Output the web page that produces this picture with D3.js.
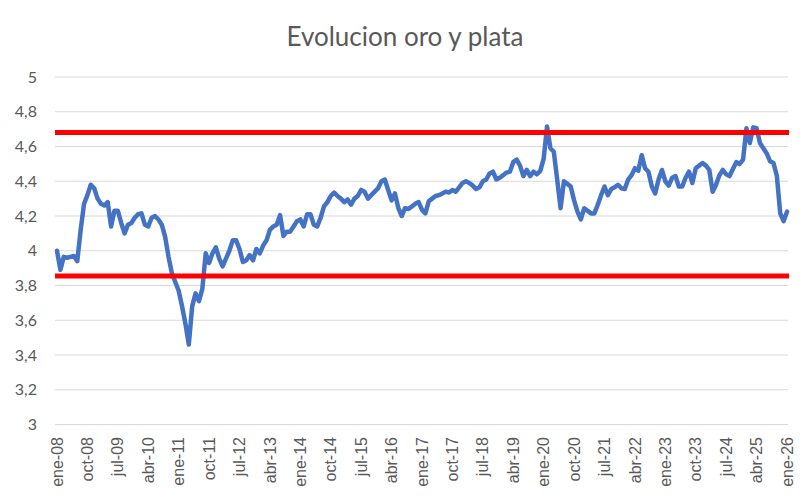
<!DOCTYPE html>
<html>
<head>
<meta charset="utf-8">
<script src="https://cdn.jsdelivr.net/npm/d3@7"></script>
<style>
  body { margin: 0; background: #fff; }
  svg { font-family: Lato, "Open Sans", sans-serif; }
</style>
</head>
<body>
<svg id="chart" width="812" height="504"></svg>
<script>
// monthly ratio, ene-08 .. ene-26 (217 months)
const ratio = [
  4.00, 3.89, 3.965, 3.96, 3.965, 3.97, 3.94, 4.12, 4.27, 4.32, 4.38, 4.36,
  4.30, 4.27, 4.26, 4.28, 4.14, 4.23, 4.23, 4.16, 4.10, 4.15, 4.16, 4.19,
  4.21, 4.215, 4.15, 4.14, 4.19, 4.20, 4.18, 4.15, 4.08, 3.965, 3.87, 3.82,
  3.77, 3.68, 3.58, 3.46, 3.68, 3.755, 3.71, 3.78, 3.985, 3.93, 3.985, 4.02,
  3.955, 3.91, 3.955, 4.00, 4.06, 4.06, 4.01, 3.935, 3.945, 3.975, 3.945, 4.01,
  3.985, 4.03, 4.06, 4.12, 4.14, 4.15, 4.205, 4.085, 4.11, 4.11, 4.14, 4.17,
  4.18, 4.14, 4.21, 4.21, 4.15, 4.14, 4.19, 4.255, 4.28, 4.315, 4.335, 4.315,
  4.30, 4.28, 4.295, 4.265, 4.30, 4.315, 4.35, 4.34, 4.30, 4.32, 4.34, 4.36,
  4.40, 4.41, 4.35, 4.29, 4.33, 4.245, 4.20, 4.245, 4.24, 4.255, 4.27, 4.28,
  4.235, 4.215, 4.285, 4.30, 4.315, 4.32, 4.33, 4.34, 4.335, 4.35, 4.34, 4.365,
  4.39, 4.40, 4.39, 4.375, 4.355, 4.365, 4.40, 4.41, 4.445, 4.455, 4.41, 4.42,
  4.435, 4.45, 4.455, 4.51, 4.525, 4.49, 4.43, 4.465, 4.43, 4.455, 4.44, 4.46,
  4.53, 4.715, 4.59, 4.57, 4.41, 4.245, 4.40, 4.385, 4.37, 4.29, 4.225, 4.18,
  4.245, 4.23, 4.215, 4.215, 4.265, 4.32, 4.37, 4.32, 4.355, 4.365, 4.38, 4.36,
  4.355, 4.41, 4.435, 4.475, 4.46, 4.55, 4.475, 4.455, 4.37, 4.33, 4.41, 4.465,
  4.40, 4.375, 4.42, 4.43, 4.37, 4.37, 4.42, 4.455, 4.39, 4.475, 4.49, 4.505,
  4.49, 4.465, 4.34, 4.38, 4.435, 4.465, 4.44, 4.43, 4.47, 4.51, 4.50, 4.525,
  4.705, 4.62, 4.71, 4.705, 4.62, 4.59, 4.56, 4.515, 4.505, 4.43, 4.215, 4.17,
  4.225
];
const bandLevels = [4.68, 3.855];
const xLabels = ["ene-08", "oct-08", "jul-09", "abr-10", "ene-11", "oct-11", "jul-12",
  "abr-13", "ene-14", "oct-14", "jul-15", "abr-16", "ene-17", "oct-17", "jul-18",
  "abr-19", "ene-20", "oct-20", "jul-21", "abr-22", "ene-23", "oct-23", "jul-24",
  "abr-25", "ene-26"];
const yTicks = [3, 3.2, 3.4, 3.6, 3.8, 4, 4.2, 4.4, 4.6, 4.8, 5];

const svg = d3.select("#chart");
const plotLeft = 55, plotRight = 788, plotTop = 77, plotBottom = 424.5;

const x = d3.scaleLinear().domain([0, ratio.length - 1]).range([57, 787]);
const y = d3.scaleLinear().domain([3, 5]).range([plotBottom, plotTop]);

// title
svg.append("text")
  .attr("x", 405).attr("y", 46)
  .attr("text-anchor", "middle")
  .attr("font-size", 26)
  .attr("fill", "#595959")
  .text("Evolucion oro y plata");

// gridlines
svg.append("g").selectAll("line").data(yTicks).join("line")
  .attr("x1", plotLeft).attr("x2", plotRight)
  .attr("y1", d => y(d)).attr("y2", d => y(d))
  .attr("stroke", "#d9d9d9").attr("stroke-width", 1);

// y labels
const fmt = d => String(d).replace(".", ",");
svg.append("g").selectAll("text").data(yTicks).join("text")
  .attr("x", 37).attr("y", d => y(d))
  .attr("dy", "0.35em")
  .attr("text-anchor", "end")
  .attr("font-size", 16)
  .attr("fill", "#595959")
  .text(fmt);

// x labels, every 9 months
svg.append("g").selectAll("text").data(xLabels).join("text")
  .attr("transform", (d, i) => `translate(${x(i * 9)},437) rotate(-90)`)
  .attr("dy", "0.35em")
  .attr("text-anchor", "end")
  .attr("font-family", "'Liberation Sans', Arial, sans-serif")
  .attr("font-size", 16)
  .attr("fill", "#595959")
  .text(d => d);

// series
const line = d3.line().x((d, i) => x(i)).y(d => y(d));
svg.append("path")
  .datum(ratio)
  .attr("d", line)
  .attr("fill", "none")
  .attr("stroke", "#4472c4")
  .attr("stroke-width", 4.5)
  .attr("stroke-linejoin", "round")
  .attr("stroke-linecap", "round");

// red reference lines
svg.append("g").selectAll("line").data(bandLevels).join("line")
  .attr("x1", plotLeft).attr("x2", plotRight + 1)
  .attr("y1", d => y(d)).attr("y2", d => y(d))
  .attr("stroke", "#ff0000").attr("stroke-width", 5);
</script>
</body>
</html>
